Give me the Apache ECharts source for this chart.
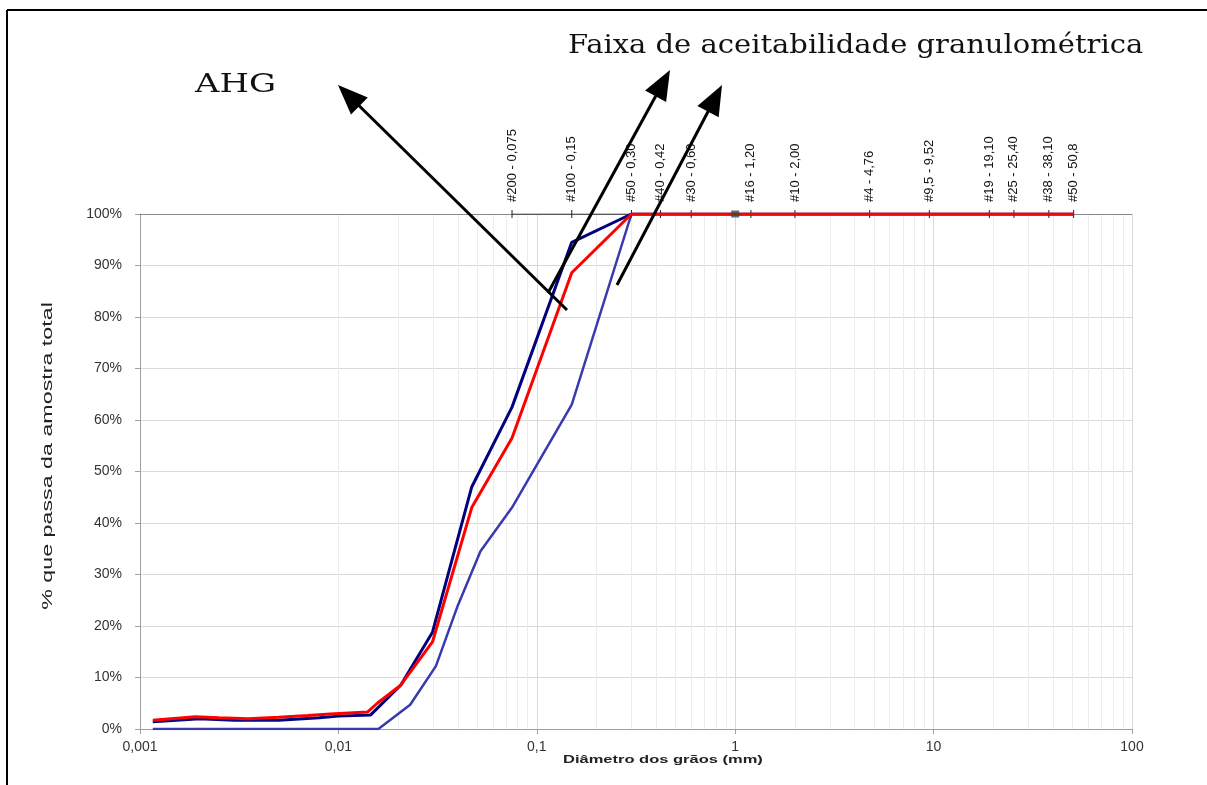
<!DOCTYPE html>
<html>
<head>
<meta charset="utf-8">
<script src="https://cdn.jsdelivr.net/npm/echarts@6/dist/echarts.min.js"></script>
<style>
  html, body { margin: 0; padding: 0; background: #fff; }
  #curva { width: 1207px; height: 785px; }
</style>
</head>
<body>
<div id="curva"></div>
<script>
// diametro (mm), % que passa
var amostraAHG = [
  [0.00116, 1.7], [0.0019, 2.4], [0.0025, 2.2], [0.0035, 2.0], [0.005, 2.3],
  [0.007, 2.6], [0.0091, 2.9], [0.014, 3.3], [0.0157, 5.0], [0.0206, 8.5],
  [0.0298, 16.9], [0.047, 43], [0.075, 56.5], [0.15, 88.6], [0.3, 100],
  [0.42, 100], [0.6, 100], [1.2, 100], [2.0, 100], [4.76, 100], [9.52, 100],
  [19.1, 100], [25.4, 100], [38.1, 100], [50.8, 100]
];
var limiteSuperior = [
  [0.00116, 1.4], [0.002, 2.0], [0.003, 1.7], [0.005, 1.7], [0.008, 2.2],
  [0.01, 2.5], [0.0145, 2.7], [0.0206, 8.5], [0.0298, 18.8], [0.047, 47],
  [0.075, 62.5], [0.15, 94.5], [0.3, 100], [0.42, 100], [0.6, 100], [1.2, 100],
  [2.0, 100], [4.76, 100], [9.52, 100], [19.1, 100], [25.4, 100], [38.1, 100],
  [50.8, 100]
];
var limiteInferior = [
  [0.00116, 0], [0.0159, 0], [0.023, 4.7], [0.031, 12.2], [0.04, 24],
  [0.052, 34.5], [0.075, 43], [0.15, 63], [0.3, 100], [0.42, 100], [0.6, 100],
  [1.2, 100], [2.0, 100], [4.76, 100], [9.52, 100], [19.1, 100], [25.4, 100],
  [38.1, 100], [50.8, 100]
];
var peneiras = [0.075, 0.15, 0.3, 0.42, 0.6, 1.2, 2.0, 4.76, 9.52, 19.1, 25.4, 38.1, 50.8];
var peneirasNomes = ['#200 - 0,075', '#100 - 0,15', '#50 - 0,30', '#40 - 0,42', '#30 - 0,60',
  '#16 - 1,20', '#10 - 2,00', '#4 - 4,76', '#9,5 - 9,52', '#19 - 19,10', '#25 - 25,40',
  '#38 - 38,10', '#50 - 50,8'];
var marcador = [[1.0, 100]];

var myChart = echarts.init(document.getElementById('curva'));

// linhas secundarias da grade (2..9 em cada decada)
var grade = [];
for (var e = -3; e < 2; e++) {
  for (var m = 2; m <= 9; m++) {
    grade.push({ xAxis: m * Math.pow(10, e) });
  }
}

function seta(x1, y1, x2, y2) {
  var a = Math.atan2(y2 - y1, x2 - x1);
  var L = 30, W = 12;
  var bx = x2 - L * Math.cos(a), by = y2 - L * Math.sin(a);
  return [
    { type: 'line', shape: { x1: x1, y1: y1, x2: bx + 4 * Math.cos(a), y2: by + 4 * Math.sin(a) },
      style: { stroke: '#000', lineWidth: 3 }, zlevel: 2 },
    { type: 'polygon', shape: { points: [
        [x2, y2],
        [bx + W * Math.sin(a), by - W * Math.cos(a)],
        [bx - W * Math.sin(a), by + W * Math.cos(a)]
      ] }, style: { fill: '#000' }, zlevel: 2 }
  ];
}

var graficos = [
  { type: 'line', shape: { x1: 7, y1: 10, x2: 1207, y2: 10 }, style: { stroke: '#000', lineWidth: 2 } },
  { type: 'line', shape: { x1: 7, y1: 10, x2: 7, y2: 785 }, style: { stroke: '#000', lineWidth: 2 } },
  { type: 'text', left: 195, top: 72, scaleX: 1.3,
    style: { text: 'AHG', font: '26px "DejaVu Serif"', fill: '#111' } },
  { type: 'text', x: 568, y: 33, scaleX: 1.115,
    style: { text: 'Faixa de aceitabilidade granulométrica', font: '26px "DejaVu Serif"', fill: '#111' } },
  { type: 'text', x: 563, y: 754, scaleX: 1.5,
    style: { text: 'Diâmetro dos grãos (mm)', font: 'bold 11px Arial', fill: '#222' } },
  { type: 'text', x: 48, y: 456, rotation: Math.PI / 2, scaleX: 1.55,
    style: { text: '% que passa da amostra total', font: '15px Arial', fill: '#222',
             align: 'center', verticalAlign: 'middle' } }
].concat(seta(567, 310, 338, 85), seta(548, 293, 670, 70), seta(617, 285, 722, 85));

option = {
    backgroundColor: '#fff',
    animation: false,
    grid: { left: 140, right: 75, top: 214, bottom: 56 },
    xAxis: {
        type: 'log',
        logBase: 10,
        min: 0.001,
        max: 100,
        axisLine: { lineStyle: { color: '#a0a0a0' } },
        axisTick: { length: 5, lineStyle: { color: '#a0a0a0' } },
        axisLabel: {
            margin: 11,
            fontSize: 14,
            fontFamily: 'Arial',
            color: '#333',
            formatter: function (v) { return String(v).replace('.', ','); }
        },
        splitLine: { show: true, lineStyle: { color: '#d9d9d9' } }
    },
    yAxis: {
        type: 'value',
        min: 0,
        max: 100,
        interval: 10,
        axisLine: { show: true, lineStyle: { color: '#a0a0a0' } },
        axisTick: { show: true, length: 5, lineStyle: { color: '#a0a0a0' } },
        axisLabel: { margin: 18, fontSize: 14, fontFamily: 'Arial', color: '#333', formatter: '{value}%' },
        splitLine: { lineStyle: { color: '#d9d9d9' } }
    },
    graphic: graficos,
    series: [
        {
            name: 'grade',
            type: 'line',
            data: [[0.001, 0]],
            symbol: 'none',
            silent: true,
            z: 1,
            markLine: {
                silent: true,
                symbol: 'none',
                label: { show: false },
                lineStyle: { color: '#ececec', type: 'solid', width: 1 },
                data: grade.concat([{ yAxis: 100, lineStyle: { color: '#8a8a8a' } }])
            }
        },
        {
            name: 'Peneiras',
            type: 'line',
            data: peneiras.map(function (d) { return [d, 100]; }),
            lineStyle: { color: '#222', width: 1 },
            itemStyle: { color: '#222' },
            symbol: 'rect',
            symbolSize: [1, 8],
            zlevel: 1,
            z: 2,
            label: {
                show: true,
                position: 'top',
                distance: 8,
                rotate: 90,
                align: 'left',
                verticalAlign: 'middle',
                fontSize: 13,
                fontFamily: 'Arial',
                color: '#111',
                formatter: function (p) { return peneirasNomes[p.dataIndex]; }
            }
        },
        {
            name: 'Limite inferior',
            type: 'line',
            data: limiteInferior,
            symbol: 'none',
            lineStyle: { color: '#3a3ab0', width: 2.5 },
            zlevel: 1,
            z: 3
        },
        {
            name: 'Limite superior',
            type: 'line',
            data: limiteSuperior,
            symbol: 'none',
            lineStyle: { color: '#000080', width: 3 },
            zlevel: 1,
            z: 4
        },
        {
            name: 'AHG',
            type: 'line',
            data: amostraAHG,
            symbol: 'none',
            lineStyle: { color: '#ff0000', width: 3 },
            zlevel: 1,
            z: 5
        },
        {
            name: 'marcador',
            type: 'scatter',
            data: marcador,
            symbol: 'rect',
            symbolSize: [8, 7],
            itemStyle: { color: '#444' },
            zlevel: 1,
            z: 6
        }
    ]
};

myChart.setOption(option);
</script>
</body>
</html>
